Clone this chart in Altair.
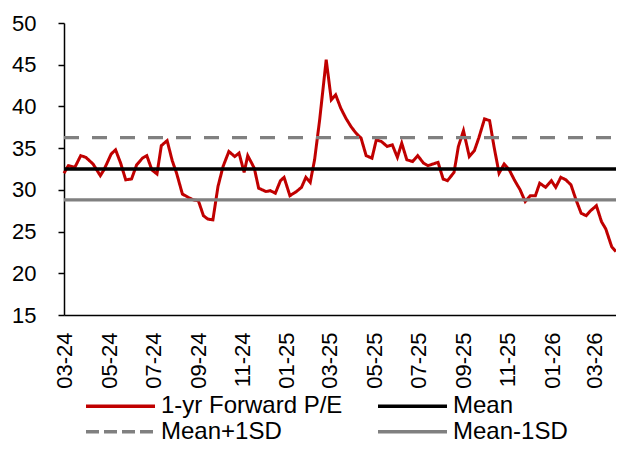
import altair as alt
import pandas as pd

start_date = "2024-02-29"
end_offset_days = 760

day_offsets = [0, 6, 15, 23, 30, 40, 50, 55, 65, 71, 78, 85, 93, 100, 108, 114, 121, 128,
               134, 142, 149, 155, 163, 171, 178, 185, 192, 198, 205, 212, 219, 227, 235,
               241, 248, 253, 262, 268, 278, 284, 291, 298, 303, 311, 320, 327, 333, 339,
               345, 352, 361, 368, 374, 381, 388, 395, 402, 409, 416, 424, 430, 437, 445,
               452, 459, 465, 472, 480, 487, 495, 501, 508, 515, 522, 528, 537, 543, 550,
               558, 565, 571, 579, 586, 592, 599, 606, 613, 620, 628, 635, 642, 649, 655,
               663, 671, 677, 684, 691, 698, 705, 712, 719, 725, 733, 740, 746, 754, 760]
pe_values = [32.0, 32.9, 32.7, 34.1, 33.9, 33.1, 31.7, 32.4, 34.3, 34.8, 33.2, 31.2, 31.3,
             33.0, 33.8, 34.1, 32.4, 31.9, 35.3, 35.9, 33.5, 32.0, 29.5, 29.1, 28.8, 28.7,
             26.9, 26.5, 26.4, 30.4, 32.8, 34.6, 34.0, 34.4, 32.1, 34.1, 32.6, 30.2, 29.8,
             29.9, 29.6, 31.1, 31.5, 29.3, 29.8, 30.3, 31.5, 30.9, 33.6, 38.4, 45.6, 40.8,
             41.4, 39.8, 38.6, 37.6, 36.8, 36.2, 34.1, 33.8, 36.0, 35.8, 35.2, 35.4, 33.9,
             35.6, 33.6, 33.4, 34.1, 33.2, 32.9, 33.1, 33.3, 31.3, 31.1, 32.1, 35.2, 37.1,
             34.0, 34.7, 36.2, 38.5, 38.3, 35.2, 32.0, 33.1, 32.4, 31.2, 30.0, 28.6, 29.3,
             29.3, 30.8, 30.3, 31.1, 30.3, 31.5, 31.2, 30.6, 28.8, 27.2, 26.9, 27.5, 28.1,
             26.2, 25.3, 23.2, 22.6]

mean_value = 32.5
plus_sd_value = 36.25
minus_sd_value = 28.8

series_names = ["1-yr Forward P/E", "Mean", "Mean+1SD", "Mean-1SD"]
series_colors = ["#C00000", "#000000", "#808080", "#808080"]
# dash scale listed with the SD bands first (keeps its legend separate)
dash_domain = ["Mean+1SD", "Mean-1SD", "1-yr Forward P/E", "Mean"]
dash_range = [[13, 5], [1, 0], [1, 0], [1, 0]]
plot_dash_plus_sd = [15, 13]

tick_dates = ["2024-03-01", "2024-05-01", "2024-07-01", "2024-09-01", "2024-11-01",
              "2025-01-01", "2025-03-01", "2025-05-01", "2025-07-01", "2025-09-01",
              "2025-11-01", "2026-01-01", "2026-03-01"]
y_ticks = [15, 20, 25, 30, 35, 40, 45, 50]


def ms(ts):
    return int(pd.Timestamp(ts).value // 10**6)


t0 = pd.Timestamp(start_date)
start_ms = ms(t0)
end_ms = ms(t0 + pd.Timedelta(days=end_offset_days))
tick_ms = [ms(d) for d in tick_dates]

pe_df = pd.DataFrame({
    "date": [ms(t0 + pd.Timedelta(days=d)) for d in day_offsets],
    "value": pe_values,
    "series": series_names[0],
})
solid_rows, dashed_rows = [], []
for name, val in zip(series_names[1:], [mean_value, plus_sd_value, minus_sd_value]):
    target = dashed_rows if name == "Mean+1SD" else solid_rows
    target.append({"date": start_ms, "value": val, "series": name})
    target.append({"date": end_ms, "value": val, "series": name})
solid_df = pd.DataFrame(solid_rows)
dashed_df = pd.DataFrame(dashed_rows)
for df in (pe_df, solid_df, dashed_df):
    df["series2"] = df["series"]

FONT = "Liberation Sans"

x_enc = alt.X(
    "date:T",
    scale=alt.Scale(type="utc", domain=[start_ms, end_ms], nice=False),
    axis=alt.Axis(
        values=tick_ms,
        labelExpr="utcFormat(datum.value, '%m-%y')",
        labelAngle=-90,
        labelPadding=17,
        ticks=False,
        tickSize=0,
        grid=False,
        title=None,
        domainColor="#000000",
        domainWidth=1.5,
        labelFontSize=22,
        labelColor="#000000",
        labelFont=FONT,
    ),
)
y_enc = alt.Y(
    "value:Q",
    scale=alt.Scale(domain=[15, 50], nice=False, zero=False),
    axis=alt.Axis(
        values=y_ticks,
        tickSize=6,
        tickColor="#000000",
        tickWidth=1.5,
        labelPadding=22,
        grid=False,
        title=None,
        domainColor="#000000",
        domainWidth=1.5,
        labelFontSize=22,
        labelColor="#000000",
        labelFont=FONT,
    ),
)

legend_common = dict(
    title=None,
    orient="none",
    direction="horizontal",
    legendX=20,
    symbolType="stroke",
    symbolSize=4761,
    symbolStrokeWidth=3.5,
    labelFontSize=24,
    labelOffset=4,
    labelLimit=300,
    labelFont=FONT,
    labelColor="#000000",
)

color_enc = alt.Color(
    "series:N",
    scale=alt.Scale(domain=series_names, range=series_colors),
    legend=alt.Legend(values=series_names[:2], legendY=346.5, columnPadding=28,
                      **legend_common),
)
dash_enc = alt.StrokeDash(
    "series2:N",
    scale=alt.Scale(domain=dash_domain, range=dash_range),
    legend=alt.Legend(values=series_names[2:], legendY=372, columnPadding=89,
                      symbolStrokeColor="#808080", **legend_common),
)

pe_line = alt.Chart(pe_df).mark_line(strokeWidth=3).encode(
    x=x_enc, y=y_enc, color=color_enc, strokeDash=dash_enc
)
solid_lines = alt.Chart(solid_df).mark_line(strokeWidth=3.3).encode(
    x=x_enc, y=y_enc, color=color_enc, strokeDash=dash_enc
)
dashed_line = alt.Chart(dashed_df).mark_line(
    strokeWidth=3.3, strokeDash=plot_dash_plus_sd
).encode(x=x_enc, y=y_enc, color=color_enc)

chart = alt.layer(pe_line, solid_lines, dashed_line).properties(
    width=552,
    height=292,
    autosize=alt.AutoSizeParams(type="none"),
    padding={"left": 56, "top": 15, "right": 0, "bottom": 128},
).configure(font=FONT).configure_view(strokeWidth=0)

chart.save("out.html", embed_options={"renderer": "svg", "actions": False})
